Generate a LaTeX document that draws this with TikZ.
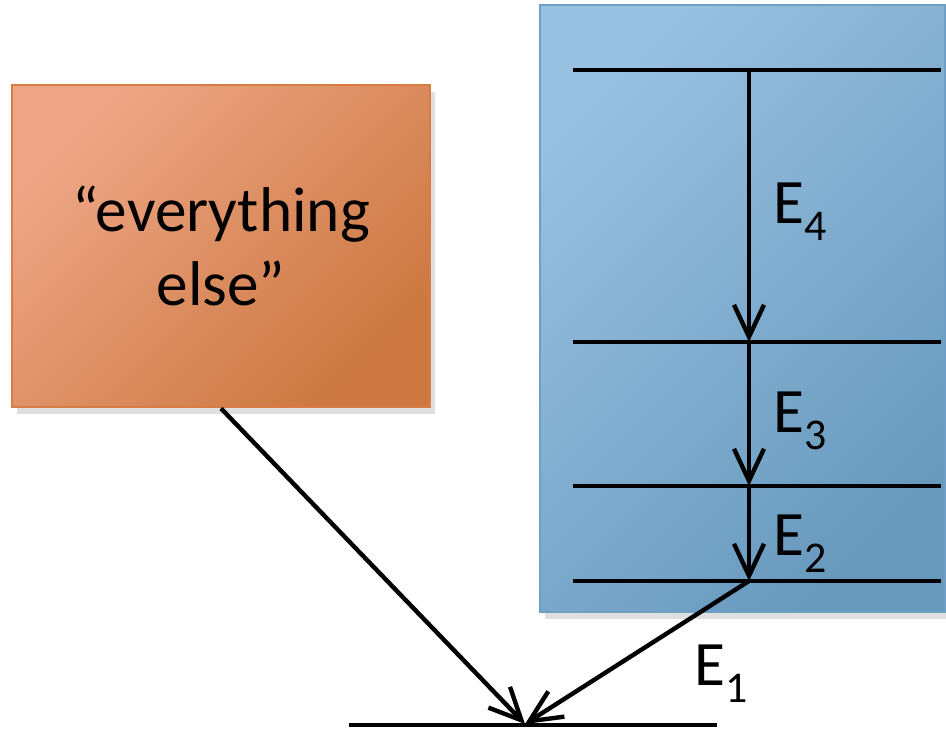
\documentclass[tikz,border=0pt]{standalone}
\usepackage{fontspec}
\setmainfont{Carlito}
\usetikzlibrary{arrows.meta, shadows}
\definecolor{elsetop}{RGB}{238,166,134}
\definecolor{elsebot}{RGB}{204,120,64}
\definecolor{elsedraw}{RGB}{216,124,68}
\definecolor{levtop}{RGB}{152,192,224}
\definecolor{levbot}{RGB}{104,154,190}
\definecolor{levdraw}{RGB}{110,160,198}
\newcommand{\En}[1]{E\raisebox{-5pt}{\fontsize{12.5}{12.5}\selectfont #1}}

\begin{document}
\begin{tikzpicture}[
  elsebox/.style={draw=elsedraw, line width=0.8pt, top color=elsetop, bottom color=elsebot,
                  shading angle=45, align=center, font=\fontsize{18}{21}\selectfont,
                  minimum width=4.18cm, minimum height=3.22cm,
                  drop shadow={shadow xshift=1.5pt, shadow yshift=-2pt, opacity=0.25}},
  levbox/.style={draw=levdraw, line width=0.8pt, top color=levtop, bottom color=levbot,
                 shading angle=45, minimum width=4.05cm, minimum height=6.07cm,
                 drop shadow={shadow xshift=1.5pt, shadow yshift=-2pt, opacity=0.25}},
  lvl/.style={line width=1.3pt},
  arr/.style={-{Straight Barb[length=3.2mm, width=3mm]}, line width=1.25pt},
  lab/.style={anchor=base west, inner sep=0pt, font=\fontsize{18}{21}\selectfont}]
  \useasboundingbox (0,0) rectangle (9.46,-7.33);
  % boxes
  \node[elsebox] (else) at (2.21,-2.46) {``everything\\else''};
  \node[levbox] (levels) at (7.425,-3.085) {};
  % energy levels
  \foreach \n/\y in {4/0.70, 3/3.42, 2/4.86, 1/5.81} {
    \coordinate (a\n) at (5.73,-\y);
    \coordinate (b\n) at (9.41,-\y);
    \coordinate (m\n) at (7.49,-\y);
    \draw[lvl] (a\n) -- (b\n);
  }
  % ground level
  \coordinate (ga) at (3.49,-7.25);
  \coordinate (gb) at (7.17,-7.25);
  \coordinate (g0) at (5.25,-7.24);
  \draw[lvl] (ga) -- (gb);
  % transitions
  \draw[arr] (m4) -- (m3);
  \draw[arr] (m3) -- (m2);
  \draw[arr] (m2) -- (m1);
  \draw[arr] (m1) -- (g0);
  \draw[arr] (else.south) -- (g0);
  % labels
  \node[lab] (e4) at (7.73,-2.23) {\En{4}};
  \node[lab] (e3) at (7.73,-4.32) {\En{3}};
  \node[lab] (e2) at (7.73,-5.55) {\En{2}};
  \node[lab] (e1) at (6.94,-6.85) {\En{1}};
\end{tikzpicture}
\end{document}
